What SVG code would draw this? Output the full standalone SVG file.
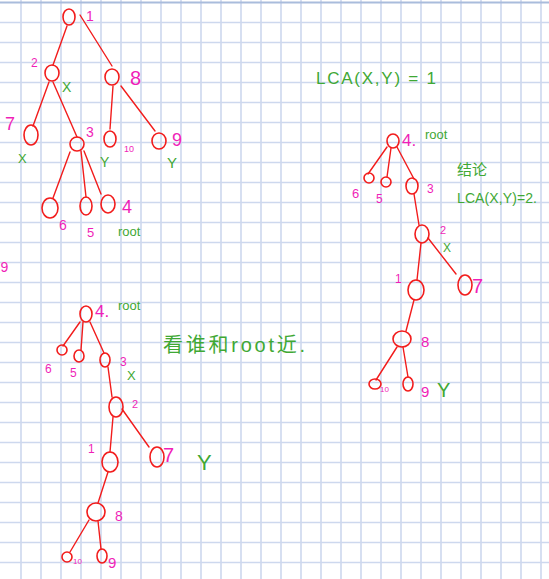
<svg xmlns="http://www.w3.org/2000/svg" width="549" height="579" viewBox="0 0 549 579">
<style>
.grid{stroke:#cdd8ee;stroke-width:1.6;fill:none}
.node{fill:none;stroke:#f21c1c;stroke-width:1.6}
.edge{stroke:#f21c1c;stroke-width:1.4;fill:none;stroke-linecap:round}
.lb{fill:#f01fb8;font-family:"Liberation Sans",sans-serif}
.gr{fill:#3fa834;font-family:"Liberation Sans","Noto Sans CJK SC",sans-serif}
</style>
<rect width="549" height="579" fill="#ffffff"/>
<g id="grid">
<path class="grid" d="M21 0V579M41 0V579M61 0V579M81 0V579M101 0V579M121 0V579M141 0V579M161 0V579M181 0V579M201 0V579M221 0V579M241 0V579M261 0V579M281 0V579M301 0V579M321 0V579M341 0V579M361 0V579M381 0V579M401 0V579M421 0V579M441 0V579M461 0V579M481 0V579M501 0V579M521 0V579M541 0V579"/>
<path class="grid" d="M0 22.5H549M0 42.5H549M0 62.5H549M0 82.5H549M0 102.5H549M0 122.5H549M0 142.5H549M0 162.5H549M0 182.5H549M0 202.5H549M0 222.5H549M0 242.5H549M0 262.5H549M0 282.5H549M0 302.5H549M0 322.5H549M0 342.5H549M0 362.5H549M0 382.5H549M0 402.5H549M0 422.5H549M0 442.5H549M0 462.5H549M0 482.5H549M0 502.5H549M0 522.5H549M0 542.5H549M0 562.5H549"/>
<path d="M0 2.5H549" stroke="#a9bcdc" stroke-width="2"/>
</g>
<g id="connectors">
<path class="edge" d="M67 26L53 65M80 15L112 66M49 82L33 126M53 82L77 137M113 86L110 129M121 86L155 131M70 152L53 198M81 151L86 197M84 151L101 194"/>
<path class="edge" d="M387 147L368 174M391 148L387 177M397 147L414 179M414 194L419 225M428 238L456 274M421 243L417 280M414 300L406 331M397 347L376 380M403 347L408 377"/>
<path class="edge" d="M80 322L63 346M83 322L81 350M90 322L104 353M108 367L112 397M122 409L149 447M113 417L110 452M108 472L98 503M89 520L70 552M98 521L101 549"/>
</g>
<g id="t1-n1"><ellipse class="node" cx="69" cy="17" rx="6" ry="8"/><text class="lb" x="86" y="21" font-size="14">1</text></g>
<g id="t1-n2"><ellipse class="node" cx="52" cy="73" rx="7" ry="8"/><text class="lb" x="31" y="67" font-size="12">2</text><text class="gr" x="62" y="92" font-size="14">X</text></g>
<g id="t1-n8"><ellipse class="node" cx="112" cy="77" rx="7" ry="8"/><text class="lb" x="130" y="85" font-size="20">8</text></g>
<g id="t1-n7"><ellipse class="node" cx="31" cy="135" rx="7" ry="10"/><text class="lb" x="5" y="130" font-size="18">7</text><text class="gr" x="18" y="163" font-size="13">X</text></g>
<g id="t1-n3"><ellipse class="node" cx="77" cy="144" rx="7" ry="7"/><text class="lb" x="86" y="137" font-size="14">3</text></g>
<g id="t1-n10"><ellipse class="node" cx="110" cy="139" rx="6" ry="8"/><text class="lb" x="124" y="152" font-size="9">10</text><text class="gr" x="100" y="167" font-size="14">Y</text></g>
<g id="t1-n9"><ellipse class="node" cx="159" cy="141" rx="7" ry="8"/><text class="lb" x="172" y="146" font-size="18">9</text><text class="gr" x="167" y="168" font-size="15">Y</text></g>
<g id="t1-n6"><ellipse class="node" cx="50" cy="208" rx="8" ry="10"/><text class="lb" x="59" y="230" font-size="14">6</text></g>
<g id="t1-n5"><ellipse class="node" cx="86" cy="206" rx="6" ry="9"/><text class="lb" x="87" y="237" font-size="13">5</text></g>
<g id="t1-n4"><ellipse class="node" cx="108" cy="204" rx="7" ry="9"/><text class="lb" x="122" y="213" font-size="18">4</text><text class="gr" x="118" y="236" font-size="13">root</text></g>
<text class="lb" x="0.5" y="272" font-size="14">9</text>
<text class="gr" x="316" y="84" font-size="17" textLength="120" lengthAdjust="spacing">LCA(X,Y) = 1</text>
<g id="t2-n4"><ellipse class="node" cx="393" cy="141" rx="6" ry="7"/><text class="lb" x="402" y="146" font-size="17">4.</text><text class="gr" x="425" y="139" font-size="13">root</text></g>
<g id="t2-n6"><ellipse class="node" cx="369" cy="178" rx="5" ry="5"/><text class="lb" x="352" y="198" font-size="13">6</text></g>
<g id="t2-n5"><ellipse class="node" cx="386" cy="182" rx="5" ry="5"/><text class="lb" x="376" y="203" font-size="12">5</text></g>
<g id="t2-n3"><ellipse class="node" cx="412" cy="186" rx="6" ry="8"/><text class="lb" x="427" y="193" font-size="12">3</text></g>
<g id="t2-n2"><ellipse class="node" cx="422" cy="234" rx="7" ry="9"/><text class="lb" x="440" y="234" font-size="11">2</text><text class="gr" x="443" y="252" font-size="12">X</text></g>
<g id="t2-n7"><ellipse class="node" cx="465" cy="285" rx="7" ry="10"/><text class="lb" x="472" y="293" font-size="20">7</text></g>
<g id="t2-n1"><ellipse class="node" cx="416" cy="290" rx="8" ry="10"/><text class="lb" x="395" y="283" font-size="12">1</text></g>
<g id="t2-n8"><ellipse class="node" cx="402" cy="339" rx="9" ry="8"/><text class="lb" x="421" y="347" font-size="15">8</text></g>
<g id="t2-n10"><ellipse class="node" cx="375" cy="384" rx="6" ry="5"/><text class="lb" x="380" y="392" font-size="8">10</text></g>
<g id="t2-n9"><ellipse class="node" cx="408" cy="384" rx="5" ry="7"/><text class="lb" x="421" y="397" font-size="15">9</text><text class="gr" x="437" y="397" font-size="20">Y</text></g>
<text class="gr" x="457" y="175" font-size="15">结论</text>
<text class="gr" x="457" y="203" font-size="14" textLength="80" lengthAdjust="spacing">LCA(X,Y)=2.</text>
<g id="t3-n4"><ellipse class="node" cx="86" cy="314" rx="6" ry="8"/><text class="lb" x="95" y="317" font-size="17">4.</text><text class="gr" x="118" y="310" font-size="13">root</text></g>
<g id="t3-n6"><ellipse class="node" cx="62" cy="350" rx="5" ry="5"/><text class="lb" x="45" y="373" font-size="12">6</text></g>
<g id="t3-n5"><ellipse class="node" cx="79" cy="356" rx="5" ry="6"/><text class="lb" x="70" y="377" font-size="12">5</text></g>
<g id="t3-n3"><ellipse class="node" cx="105" cy="360" rx="5" ry="7"/><text class="lb" x="120" y="366" font-size="12">3</text><text class="gr" x="127" y="380" font-size="13">X</text></g>
<g id="t3-n2"><ellipse class="node" cx="116" cy="407" rx="7" ry="10"/><text class="lb" x="132" y="408" font-size="11">2</text></g>
<g id="t3-n1"><ellipse class="node" cx="110" cy="462" rx="8" ry="10"/><text class="lb" x="88" y="453" font-size="12">1</text></g>
<g id="t3-n7"><ellipse class="node" cx="157" cy="457" rx="7" ry="10"/><text class="lb" x="163" y="462" font-size="20">7</text><text class="gr" x="197" y="470" font-size="22">Y</text></g>
<g id="t3-n8"><ellipse class="node" cx="96" cy="512" rx="9" ry="9"/><text class="lb" x="115" y="521" font-size="14">8</text></g>
<g id="t3-n10"><ellipse class="node" cx="67" cy="557" rx="5" ry="5"/><text class="lb" x="73" y="564" font-size="8">10</text></g>
<g id="t3-n9"><ellipse class="node" cx="102" cy="556" rx="5" ry="7"/><text class="lb" x="108" y="568" font-size="15">9</text></g>
<text class="gr" x="163" y="352" font-size="20" textLength="142" lengthAdjust="spacing">看谁和root近.</text>
</svg>
